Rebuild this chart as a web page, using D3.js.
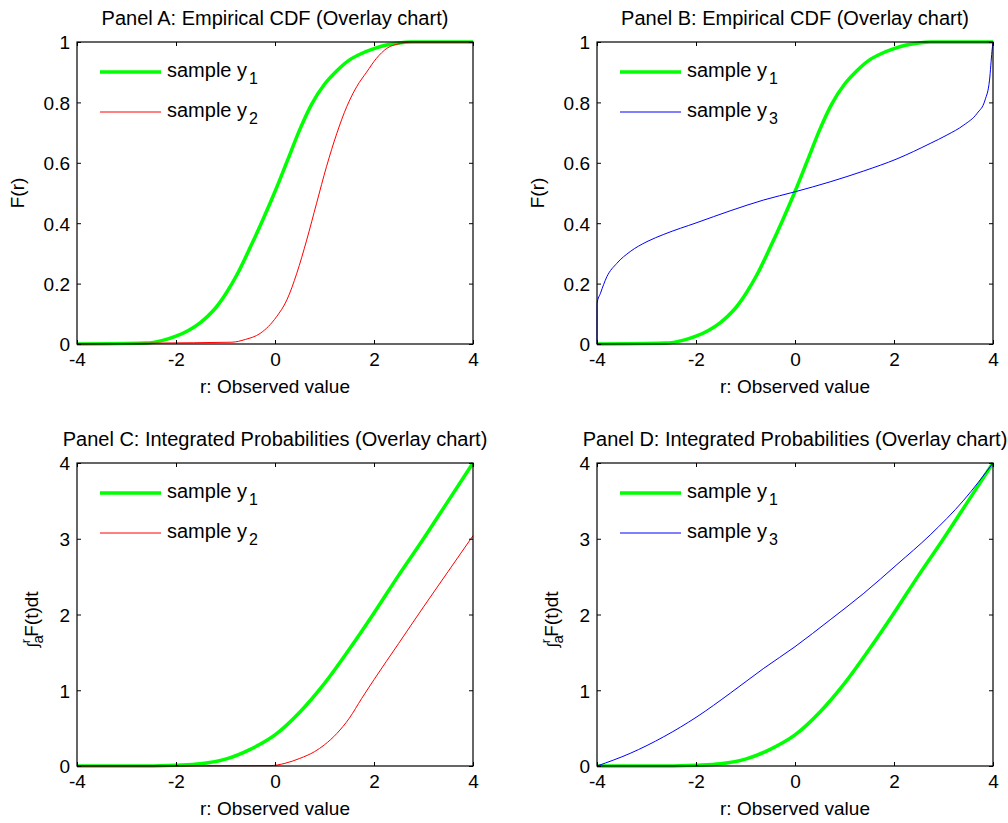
<!DOCTYPE html>
<html>
<head>
<meta charset="utf-8">
<script src="https://cdn.jsdelivr.net/npm/d3@7"></script>
<style>
  html, body { margin: 0; padding: 0; background: #fff; }
  svg { display: block; }
  text { font-family: "Liberation Sans", Arial, sans-serif; fill: #000; }
</style>
</head>
<body>
<svg id="chart" width="1008" height="823"></svg>
<script>
// ---------- data ----------
const xTicks = [-4, -2, 0, 2, 4];
const xTickLabels = ["-4", "-2", "0", "2", "4"];
const cdfTicks = [0, 0.2, 0.4, 0.6, 0.8, 1];
const cdfTickLabels = ["0", "0.2", "0.4", "0.6", "0.8", "1"];
const intTicks = [0, 1, 2, 3, 4];
const intTickLabels = ["0", "1", "2", "3", "4"];

// Empirical CDF, sample y1
const y1CdfR = [-4, -2.62, -2.25, -2.0, -1.75, -1.5, -1.25, -1.0, -0.75, -0.5, -0.25, 0, 0.25, 0.5, 0.75, 1.0, 1.25, 1.5, 1.75, 2.0, 2.25, 2.5, 2.75, 4];
const y1CdfF = [0, 0.003, 0.013, 0.026, 0.045, 0.072, 0.11, 0.165, 0.235, 0.32, 0.41, 0.505, 0.607, 0.71, 0.797, 0.86, 0.905, 0.94, 0.962, 0.978, 0.99, 0.997, 1, 1];
// Empirical CDF, sample y2
const y2CdfR = [-4, -2.42, -0.87, -0.6, -0.3, 0.03, 0.24, 0.44, 0.64, 0.84, 1.04, 1.25, 1.45, 1.65, 1.85, 2.05, 2.26, 2.53, 2.75, 4];
const y2CdfF = [0, 0.003, 0.006, 0.015, 0.035, 0.09, 0.146, 0.234, 0.344, 0.466, 0.587, 0.698, 0.786, 0.852, 0.9, 0.946, 0.979, 0.995, 1, 1];
// Empirical CDF, sample y3
const y3CdfR = [-4, -3.999, -3.93, -3.8, -3.6, -3.33, -2.99, -2.65, -1.98, -1.31, -0.63, 0, 0.71, 1.39, 2.06, 2.73, 3.07, 3.41, 3.68, 3.84, 3.93, 3.98, 4];
const y3CdfF = [0, 0.135, 0.168, 0.223, 0.267, 0.306, 0.339, 0.363, 0.402, 0.441, 0.477, 0.504, 0.537, 0.573, 0.613, 0.664, 0.692, 0.725, 0.764, 0.808, 0.874, 0.97, 1];

// Integrated probabilities
const y1IntR = [-4, -2.6, -2.0, -1.5, -1.0, -0.5, 0, 0.5, 1.0, 1.5, 2.0, 2.5, 3.0, 3.5, 4];
const y1IntV = [0, 0, 0.01, 0.03, 0.09, 0.22, 0.41, 0.71, 1.09, 1.54, 2.02, 2.52, 3.0, 3.5, 4.0];
const y2IntR = [-4, -2.42, -0.1, 0.2, 0.5, 0.8, 1.0, 1.25, 1.5, 1.75, 2.0, 2.5, 3.0, 3.5, 4];
const y2IntV = [0, 0.002, 0.005, 0.035, 0.1, 0.19, 0.28, 0.43, 0.63, 0.89, 1.14, 1.62, 2.1, 2.57, 3.04];
const y3IntR = [-4, -3.33, -2.65, -1.98, -1.31, -0.63, 0, 0.71, 1.39, 2.06, 2.73, 3.41, 4];
const y3IntV = [0, 0.167, 0.387, 0.65, 0.96, 1.29, 1.575, 1.93, 2.28, 2.66, 3.05, 3.51, 4.0];

const colors = { y1: "#00ff00", y2: "#ff0000", y3: "#0000ff" };

// ---------- drawing ----------
const svg = d3.select("#chart");
const zip = (a, b) => a.map((v, i) => [v, b[i]]);

const panels = [
  { title: "Panel A: Empirical CDF (Overlay chart)", left: 77, top: 42, right: 473, bottom: 344,
    yDomain: [0, 1], yTicks: cdfTicks, yLabels: cdfTickLabels, ylab: "F",
    series: [
      { name: "1", color: colors.y1, w: 3.5, data: zip(y1CdfR, y1CdfF) },
      { name: "2", color: colors.y2, w: 1, data: zip(y2CdfR, y2CdfF) } ] },
  { title: "Panel B: Empirical CDF (Overlay chart)", left: 597, top: 42, right: 993, bottom: 344,
    yDomain: [0, 1], yTicks: cdfTicks, yLabels: cdfTickLabels, ylab: "F",
    series: [
      { name: "1", color: colors.y1, w: 3.5, data: zip(y1CdfR, y1CdfF) },
      { name: "3", color: colors.y3, w: 1, data: zip(y3CdfR, y3CdfF) } ] },
  { title: "Panel C: Integrated Probabilities (Overlay chart)", left: 77, top: 463, right: 473, bottom: 766,
    yDomain: [0, 4], yTicks: intTicks, yLabels: intTickLabels, ylab: "I",
    series: [
      { name: "1", color: colors.y1, w: 3.5, data: zip(y1IntR, y1IntV) },
      { name: "2", color: colors.y2, w: 1, data: zip(y2IntR, y2IntV) } ] },
  { title: "Panel D: Integrated Probabilities (Overlay chart)", left: 597, top: 463, right: 993, bottom: 766,
    yDomain: [0, 4], yTicks: intTicks, yLabels: intTickLabels, ylab: "I",
    series: [
      { name: "1", color: colors.y1, w: 3.5, data: zip(y1IntR, y1IntV) },
      { name: "3", color: colors.y3, w: 1, data: zip(y3IntR, y3IntV) } ] }
];

panels.forEach((p, pi) => {
  const x = d3.scaleLinear().domain([-4, 4]).range([p.left, p.right]);
  const y = d3.scaleLinear().domain(p.yDomain).range([p.bottom, p.top]);
  const g = svg.append("g");

  const clipId = "clip" + pi;
  svg.append("clipPath").attr("id", clipId).append("rect")
    .attr("x", p.left - 2).attr("y", p.top - 2)
    .attr("width", p.right - p.left + 4).attr("height", p.bottom - p.top + 4);

  // curves
  const line = d3.line().x(d => x(d[0])).y(d => y(d[1])).curve(d3.curveMonotoneX);
  p.series.forEach(s => {
    g.append("path").attr("d", line(s.data))
      .attr("fill", "none").attr("stroke", s.color).attr("stroke-width", s.w)
      .attr("stroke-linejoin", "round")
      .attr("clip-path", `url(#${clipId})`);
  });

  const fontTick = "19px";
  const axB = g.append("g").attr("transform", `translate(0,${p.bottom})`)
    .call(d3.axisBottom(x).tickValues(xTicks).tickFormat((d, i) => xTickLabels[i])
      .tickSizeInner(-4).tickSizeOuter(0).tickPadding(9));
  const axT = g.append("g").attr("transform", `translate(0,${p.top})`)
    .call(d3.axisTop(x).tickValues(xTicks).tickFormat("").tickSizeInner(-4).tickSizeOuter(0));
  const axL = g.append("g").attr("transform", `translate(${p.left},0)`)
    .call(d3.axisLeft(y).tickValues(p.yTicks).tickFormat((d, i) => p.yLabels[i])
      .tickSizeInner(-4).tickSizeOuter(0).tickPadding(7));
  const axR = g.append("g").attr("transform", `translate(${p.right},0)`)
    .call(d3.axisRight(y).tickValues(p.yTicks).tickFormat("").tickSizeInner(-4).tickSizeOuter(0));
  [axB, axT, axL, axR].forEach(a => {
    a.select(".domain").remove();
    a.selectAll(".tick line").attr("stroke", "#000").attr("stroke-width", 1);
    a.selectAll(".tick text").style("font-size", fontTick)
      .style("font-family", '"Liberation Sans", Arial, sans-serif').attr("fill", "#000");
  });
  axL.selectAll(".tick text").attr("dy", "0.36em");

  // box
  g.append("rect").attr("x", p.left).attr("y", p.top)
    .attr("width", p.right - p.left).attr("height", p.bottom - p.top)
    .attr("fill", "none").attr("stroke", "#000").attr("stroke-width", 1.2);

  // title
  g.append("text").attr("x", (p.left + p.right) / 2).attr("y", p.top - 17)
    .attr("text-anchor", "middle").style("font-size", "20px").text(p.title);

  // x label
  g.append("text").attr("x", (p.left + p.right) / 2).attr("y", p.bottom + 49)
    .attr("text-anchor", "middle").style("font-size", "19px").text("r: Observed value");

  // y label
  const cy = (p.top + p.bottom) / 2;
  if (p.ylab === "F") {
    g.append("text").attr("transform", `translate(${p.left - 53},${cy}) rotate(-90)`)
      .attr("text-anchor", "middle").style("font-size", "19px").text("F(r)");
  } else {
    const t = g.append("text").attr("transform", `translate(${p.left - 39},${cy + 5}) rotate(-90)`)
      .attr("text-anchor", "middle").style("font-size", "19px");
    t.append("tspan").style("font-size", "15px").text("\u222B");
    t.append("tspan").attr("dy", 5).style("font-size", "15px").text("a");
    t.append("tspan").attr("dx", -8).attr("dy", -13).style("font-size", "13px").text("r");
    t.append("tspan").attr("dx", 2).attr("dy", 8).text("F(t)dt");
  }

  // legend
  p.series.forEach((s, i) => {
    const ly = p.top + 30 + i * 40;
    g.append("line").attr("x1", p.left + 23).attr("x2", p.left + 84)
      .attr("y1", ly).attr("y2", ly).attr("stroke", s.color).attr("stroke-width", s.w);
    const t = g.append("text").attr("x", p.left + 90).attr("y", ly + 5).style("font-size", "20px");
    t.append("tspan").text("sample y");
    t.append("tspan").attr("dx", 2).attr("dy", 7).style("font-size", "16px").text(s.name);
  });
});
</script>
</body>
</html>
